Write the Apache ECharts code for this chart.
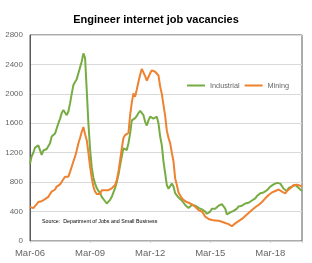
<!DOCTYPE html>
<html><head><meta charset="utf-8">
<script src="https://cdn.jsdelivr.net/npm/echarts@6/dist/echarts.min.js"></script>
<style>html,body{margin:0;padding:0;background:#fff}#c{width:312px;height:263px}</style>
</head><body><div id="c"></div>
<script>
// Monthly data, first value = Mar-06
const startMonth = 'Mar-06';
const xTickLabels = ['Mar-06','Mar-09','Mar-12','Mar-15','Mar-18'];
const yTicks = [0,400,800,1200,1600,2000,2400,2800];
const industrial = [
1050,1150,1200,1270,1290,1300,1290,1170,1230,1240,1250,1265,
1330,1420,1440,1460,1480,1600,1660,1740,1780,1760,1710,1760,
1870,2000,2120,2160,2200,2280,2360,2440,2550,2490,2050,1600,
1250,1000,860,780,720,680,650,600,590,540,510,510,
560,600,660,720,800,900,1030,1150,1260,1250,1237,1330,
1460,1640,1650,1670,1700,1740,1770,1760,1710,1620,1570,1640,
1690,1680,1665,1680,1690,1600,1420,1300,1080,920,760,710,
700,780,740,650,630,590,570,550,520,490,470,450,
470,490,480,480,460,450,460,430,420,400,370,360,
400,440,430,440,460,480,490,500,510,440,360,380,
390,400,410,420,440,470,490,480,500,510,510,520,
540,550,570,580,610,630,650,640,660,680,690,710,
740,760,770,780,790,800,780,760,710,690,680,720,
740,740,750,760,740,720,700,680];
const mining = [
460,440,448,470,500,530,520,540,557,570,580,600,
640,670,690,700,740,730,770,806,840,874,860,874,
940,1010,1080,1146,1230,1328,1400,1485,1550,1450,1370,1200,
1010,860,740,670,640,625,640,690,716,690,670,690,
700,716,730,760,830,942,1100,1260,1400,1440,1430,1470,
1712,1880,2007,1961,2060,2165,2260,2340,2320,2240,2180,2190,
2280,2320,2310,2300,2290,2250,2100,2000,1848,1700,1500,1400,
1330,1200,1080,850,760,660,620,580,557,540,530,520,
510,500,480,466,450,420,410,398,370,330,308,300,
290,285,290,280,285,275,265,262,255,245,240,230,
215,200,210,240,250,270,285,300,320,340,353,380,
400,420,444,460,480,489,510,530,557,580,600,625,
640,660,670,680,690,700,693,670,650,648,680,700,
716,740,760,761,765,760,750,740];
const seriesNames = ['Industrial','Mining'];
const sourceText = 'Source:  Department of Jobs and Small Business';

const chart = echarts.init(document.getElementById('c'), null, {renderer:'canvas'});
const font = '"Liberation Sans",Arial,sans-serif';
const toPairs = a => a.map((v,i)=>[i,v]);
chart.setOption({
  animation:false,
  title:{text:'Engineer internet job vacancies',left:'center',top:9,
    textStyle:{fontFamily:font,fontSize:11,fontWeight:'bold',color:'#000'}},
  grid:{left:30,right:10,top:35,bottom:22,show:true,borderColor:'#595959',borderWidth:1},
  legend:{data:seriesNames,top:77,left:182,itemWidth:18,itemHeight:2,itemGap:5,
    icon:'rect',textStyle:{fontFamily:font,fontSize:7.3,color:'#666'}},
  xAxis:{type:'value',min:0,max:163,interval:36,
    axisLine:{show:true,lineStyle:{color:'#d0d0d0'}},
    axisTick:{show:true,length:2,lineStyle:{color:'#d0d0d0'}},
    splitLine:{show:false},
    axisLabel:{fontFamily:font,fontSize:9.5,color:'#666',margin:7,
      formatter:v=>xTickLabels[Math.round(v/36)]||''}},
  yAxis:{type:'value',min:0,max:2800,interval:400,
    axisLine:{show:true,lineStyle:{color:'#595959'}},
    axisTick:{show:false},
    splitLine:{lineStyle:{color:'#d9d9d9'}},
    axisLabel:{fontFamily:font,fontSize:8,color:'#666',margin:7,
      formatter:v=>String(v)}},
  graphic:[{type:'text',left:42,top:219,style:{text:sourceText,font:'5.3px '+font,fill:'#000'}}],
  series:[
    {name:seriesNames[0],type:'line',data:toPairs(industrial),showSymbol:false,
      lineStyle:{width:2,color:'#77ac43'},itemStyle:{color:'#77ac43'}},
    {name:seriesNames[1],type:'line',data:toPairs(mining),showSymbol:false,
      lineStyle:{width:2,color:'#ee8231'},itemStyle:{color:'#ee8231'}}
  ]
});
</script></body></html>
